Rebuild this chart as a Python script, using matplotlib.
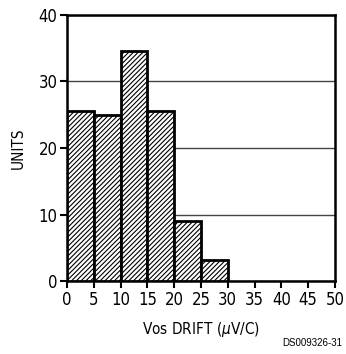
# histogram of Vos drift, redrawn from a datasheet figure

import matplotlib
matplotlib.use('Agg')
import matplotlib.pyplot as plt

bin_edges = [0, 5, 10, 15, 20, 25, 30]
units = [25.6, 25.0, 34.5, 25.6, 9.1, 3.1]
x_ticks = [0, 5, 10, 15, 20, 25, 30, 35, 40, 45, 50]
y_ticks = [0, 10, 20, 30, 40]

plt.rcParams['hatch.linewidth'] = 0.8
plt.rcParams['font.stretch'] = 'condensed'

fig = plt.figure(figsize=(3.46, 3.54), dpi=100)
ax = fig.add_axes([0.194, 0.206, 0.774, 0.752])

# grid behind the bars
ax.set_axisbelow(True)
ax.yaxis.grid(True, color='#444444', linewidth=1.0)

lefts = bin_edges[:-1]
widths = [b - a for a, b in zip(bin_edges[:-1], bin_edges[1:])]
ax.bar(lefts, units, width=widths, align='edge', color='white',
       edgecolor='black', linewidth=2, hatch='///////', zorder=3)

ax.set_xlim(0, 50)
ax.set_ylim(0, 40)
ax.set_xticks(x_ticks)
ax.set_yticks(y_ticks)
ax.tick_params(axis='both', direction='out', length=5, width=1.5,
               labelsize=12, pad=2)

for s in ax.spines.values():
    s.set_linewidth(1.8)

ax.set_xlabel('Vos DRIFT ($\\mu$V/C)', fontsize=11, labelpad=8)
ax.set_ylabel('UNITS', fontsize=11, labelpad=9)

fig.text(0.99, 0.03, 'DS009326-31', ha='right', va='center',
         fontsize=7, family='Liberation Sans', fontstretch='normal')

fig.savefig('out.png', dpi=100)
